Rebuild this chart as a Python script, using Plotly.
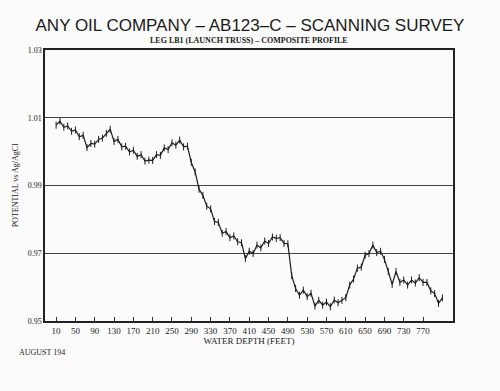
import plotly.graph_objects as go

depth_ft = list(range(10, 811, 8))
potential = [
    1.0078, 1.0090, 1.0072, 1.0076, 1.0060, 1.0064, 1.0044, 1.0048, 1.0012, 1.0024,
    1.0022, 1.0036, 1.0040, 1.0054, 1.0066, 1.0030, 1.0036, 1.0014, 1.0016, 0.9999,
    1.0004, 0.9986, 0.9991, 0.9972, 0.9975, 0.9974, 0.9991, 0.9989, 1.0011, 1.0006,
    1.0026, 1.0019, 1.0034, 1.0014, 1.0016, 0.9968, 0.9940, 0.9889, 0.9871, 0.9839,
    0.9831, 0.9794, 0.9791, 0.9759, 0.9764, 0.9746, 0.9751, 0.9734, 0.9731, 0.9684,
    0.9706, 0.9699, 0.9724, 0.9716, 0.9736, 0.9729, 0.9748, 0.9744, 0.9746, 0.9729,
    0.9728, 0.9634, 0.9596, 0.9576, 0.9591, 0.9572, 0.9582, 0.9544, 0.9561, 0.9547,
    0.9556, 0.9542, 0.9562, 0.9554, 0.9561, 0.9569, 0.9606, 0.9624, 0.9656, 0.9659,
    0.9694, 0.9699, 0.9724, 0.9702, 0.9706, 0.9682, 0.9646, 0.9608, 0.9646, 0.9614,
    0.9621, 0.9606, 0.9621, 0.9612, 0.9628, 0.9614, 0.9614, 0.9589, 0.9581, 0.9552,
    0.9568,
]
x_ticks = list(range(10, 771, 40))
y_ticks = [0.95, 0.97, 0.99, 1.01, 1.03]
y_tick_text = ["0.95", "0.97", "0.99", "1.01", "1.03"]

serif = "Liberation Serif, Times New Roman, serif"
sans = "Liberation Sans, Arial, sans-serif"

fig = go.Figure()
fig.add_trace(go.Scatter(
    x=depth_ft, y=potential, mode="lines+markers",
    line=dict(color="#1e1e1e", width=1.2),
    marker=dict(symbol="line-ns-open", size=5, line=dict(color="#1e1e1e", width=1)),
    showlegend=False,
))

fig.update_layout(
    width=500, height=391,
    margin=dict(l=45, r=47, t=50, b=70),
    paper_bgcolor="#fbfbfb", plot_bgcolor="#fbfbfb",
    title=dict(text="ANY OIL COMPANY – AB123–C – SCANNING SURVEY",
               x=0.5, xanchor="center", y=1 - 25 / 391, yanchor="middle",
               font=dict(family=sans, size=17, color="#1a1a1a")),
    xaxis=dict(range=[-13, 832], tickmode="array", tickvals=x_ticks,
               ticktext=[str(v) for v in x_ticks],
               ticks="inside", ticklen=4, tickcolor="#333", showgrid=False,
               showline=True, linecolor="#222", linewidth=1.5, mirror=True,
               zeroline=False,
               tickfont=dict(family=serif, size=9, color="#1a1a1a"),
               title=dict(text="WATER DEPTH (FEET)", standoff=2,
                          font=dict(family=serif, size=9, color="#1a1a1a"))),
    yaxis=dict(range=[0.95, 1.03], tickmode="array", tickvals=y_ticks,
               ticktext=y_tick_text, ticks="", showgrid=True,
               gridcolor="#444", gridwidth=1,
               showline=True, linecolor="#222", linewidth=1.5, mirror=True,
               zeroline=False,
               tickfont=dict(family=serif, size=8, color="#1a1a1a"),
               title=dict(text="POTENTIAL vs Ag/AgCl", standoff=8,
                          font=dict(family=serif, size=8, color="#1a1a1a"))),
    annotations=[
        dict(text="<b>LEG LB1 (LAUNCH TRUSS) – COMPOSITE PROFILE</b>",
             xref="paper", yref="paper", x=0.5, y=1 + (50 - 40) / 271,
             yanchor="middle", showarrow=False,
             font=dict(family=serif, size=8, color="#1a1a1a")),
        dict(text="AUGUST 194", xref="paper", yref="paper",
             x=(17 - 45) / 408, xanchor="left",
             y=-(352 - 321) / 271, yanchor="middle", showarrow=False,
             font=dict(family=serif, size=8, color="#1a1a1a")),
    ],
)

fig.write_html("out.html")
